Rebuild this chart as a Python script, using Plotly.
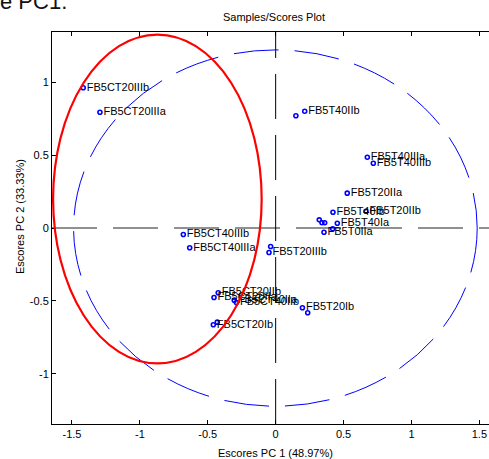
import plotly.graph_objects as go

# ---- data ----
sample_labels = [
    "FB5CT20IIIb", "FB5CT20IIIa", "FB5CT40IIIb", "FB5CT40IIIa",
    "", "FB5T20IIIb", "", "FB5T40IIb",
    "FB5T40IIIa", "FB5T40IIIb", "FB5T20IIa", "FB5T20IIb",
    "FB5T40Ib", "", "", "",
    "FB5T40Ia", "", "FB5T0IIa", "FB5CT20IIb",
    "FB5CT20IIa", "FB5CT40IIa", "FB5CT40IIb", "FB5T20Ib",
    "", "", "FB5CT20Ib",
]
pc1_scores = [
    -1.417, -1.294, -0.680, -0.633,
    -0.037, -0.049, 0.149, 0.214,
    0.675, 0.719, 0.527, 0.665,
    0.422, 0.321, 0.341, 0.361,
    0.454, 0.420, 0.356, -0.423,
    -0.454, -0.305, -0.289, 0.197,
    0.236, -0.430, -0.459,
]
pc2_scores = [
    0.962, 0.794, -0.045, -0.136,
    -0.127, -0.168, 0.770, 0.801,
    0.486, 0.444, 0.239, 0.115,
    0.108, 0.056, 0.036, 0.036,
    0.033, -0.005, -0.029, -0.444,
    -0.477, -0.495, -0.511, -0.547,
    -0.582, -0.646, -0.664,
]
x_ticks = [-1.5, -1, -0.5, 0, 0.5, 1, 1.5]
x_tick_text = ["-1.5", "-1", "-0.5", "0", "0.5", "1", "1.5"]
y_ticks = [-1, -0.5, 0, 0.5, 1]
y_tick_text = ["-1", "-0.5", "0", "0.5", "1"]

# confidence ellipse (blue) and hand-drawn highlight (red): [x0, x1, y0, y1]
conf_ellipse = [-1.488, 1.484, -1.223, 1.222]
highlight_ellipse = [-1.639, -0.103, -0.929, 1.327]

x_range = [-1.647, 1.571]
y_range = [-1.345, 1.345]

FONT = "Liberation Sans, Arial, Helvetica, sans-serif"

fig = go.Figure()
fig.add_trace(go.Scatter(
    x=pc1_scores, y=pc2_scores, text=sample_labels,
    mode="markers+text", textposition="middle right",
    textfont=dict(family=FONT, size=11, color="#000000"),
    marker=dict(symbol="circle-open", size=4, color="#0000ff",
                line=dict(color="#0000ff", width=1.6)),
    showlegend=False, hoverinfo="skip",
))

dash = "45px,16px"
shapes = [
    dict(type="line", xref="x", yref="y", x0=x_range[0], x1=x_range[1], y0=0, y1=0,
         line=dict(color="#222222", width=1, dash=dash), layer="below"),
    dict(type="line", xref="x", yref="y", x0=0, x1=0, y0=y_range[0], y1=y_range[1],
         line=dict(color="#000000", width=1, dash=dash), layer="below"),
    dict(type="circle", xref="x", yref="y",
         x0=conf_ellipse[0], x1=conf_ellipse[1], y0=conf_ellipse[2], y1=conf_ellipse[3],
         line=dict(color="#0000ff", width=1, dash=dash), layer="below"),
    dict(type="circle", xref="x", yref="y",
         x0=highlight_ellipse[0], x1=highlight_ellipse[1],
         y0=highlight_ellipse[2], y1=highlight_ellipse[3],
         line=dict(color="#ff0000", width=2.2)),
]

W, H = 489, 459
L, R, T, B = 52, 0, 32, 35
pw, ph = W - L - R, H - T - B

def px_x(p):
    return (p - L) / pw

def px_y(p):
    return (H - B - p) / ph

annotations = [
    dict(text="Escores PC 1 (48.97%)", xref="paper", yref="paper",
         x=px_x(275), y=px_y(453), xanchor="center", yanchor="middle",
         showarrow=False, font=dict(family=FONT, size=11, color="#000000")),
    dict(text="Escores PC 2 (33.33%)", xref="paper", yref="paper",
         x=px_x(20), y=px_y(217), xanchor="center", yanchor="middle", textangle=-90,
         showarrow=False, font=dict(family=FONT, size=11, color="#000000")),
    dict(text="e PC1.", xref="paper", yref="paper",
         x=px_x(-2), y=px_y(16), xanchor="left", yanchor="bottom",
         showarrow=False, font=dict(family=FONT, size=22, color="#111111")),
]

axis_common = dict(
    showgrid=False, zeroline=False, showline=True, linecolor="#000000", linewidth=1,
    ticks="inside", ticklen=4, tickcolor="#000000",
    tickfont=dict(family=FONT, size=11, color="#000000"),
)

fig.update_layout(
    width=W, height=H,
    margin=dict(l=L, r=R, t=T, b=B, pad=0),
    paper_bgcolor="#ffffff", plot_bgcolor="#ffffff",
    title=dict(text="Samples/Scores Plot", xref="paper", x=px_x(274),
               yref="container", y=1 - 17.3 / H, xanchor="center", yanchor="middle",
               font=dict(family=FONT, size=11, color="#000000")),
    xaxis=dict(range=x_range, tickvals=x_ticks, ticktext=x_tick_text,
               mirror="ticks", **axis_common),
    yaxis=dict(range=y_range, tickvals=y_ticks, ticktext=y_tick_text,
               mirror=False, **axis_common),
    shapes=shapes, annotations=annotations,
)

fig.write_html("out.html",
               config={"displayModeBar": False},
               post_script="document.body.style.margin='0';document.body.style.overflow='hidden';")
